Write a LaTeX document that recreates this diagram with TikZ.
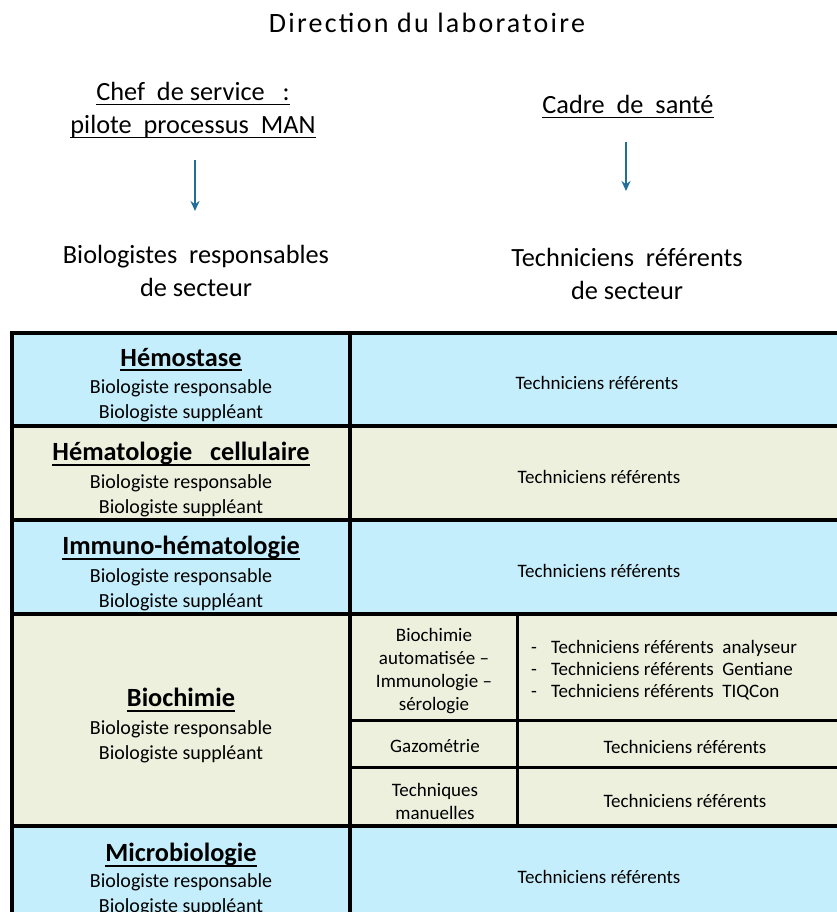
\documentclass[tikz,border=0pt]{standalone}
\usepackage{fontspec}
\setmainfont{Carlito}
\usetikzlibrary{arrows.meta}
\definecolor{cblue}{RGB}{197,238,252}
\definecolor{cbeige}{RGB}{237,240,221}
\definecolor{carrow}{RGB}{31,110,155}
\newcommand\hul[1]{\setbox0\hbox{#1}\leavevmode\rlap{\rule[-4.6pt]{\wd0}{1.9pt}}\box0}
\newcommand\bul[1]{\setbox0\hbox{#1}\leavevmode\rlap{\rule[-4.6pt]{\wd0}{1.4pt}}\box0}
\begin{document}
\begin{tikzpicture}[x=1pt,y=-1pt,
  big/.style={font=\fontsize{26.3}{33}\selectfont, align=center, inner sep=0pt},
  head/.style={font=\fontsize{26.3}{28}\selectfont\bfseries, inner sep=0pt},
  small/.style={font=\fontsize{20}{24.5}\selectfont, align=center, inner sep=0pt},
  cell/.style={font=\fontsize{19}{23}\selectfont, align=center, inner sep=0pt},
  arr/.style={draw=carrow, line width=1.7pt, -{Stealth[length=10pt,width=9pt]}},
  grid/.style={line width=3.6pt, line cap=rect},
  subgrid/.style={line width=3pt}]
\useasboundingbox (0,0) rectangle (837,912);

% header
\node (title) at (427,23) {\fontsize{28}{32}\selectfont\addfontfeature{LetterSpace=8}Direction du laboratoire};
\node[big] (chef) at (193,110) {\bul{Chef\ \ de service\ \ \ :}\\\bul{pilote\ \ processus\ \ MAN}};
\node[big] (cadre) at (628,107) {\bul{Cadre\ \ de\ \ santé}};
\node[big] (bio) at (196,271) {Biologistes\ \ responsables\\de secteur};
\node[big] (tech) at (627,274) {Techniciens\ \ référents\\de secteur};
\coordinate (a1s) at (195,160);
\coordinate (a1e) at (195,211);
\coordinate (a2s) at (626,142);
\coordinate (a2e) at (626,191);
\draw[arr] (a1s) -- (a1e);
\draw[arr] (a2s) -- (a2e);

% fills
\fill[cblue] (12,333) rectangle (837,426);
\fill[cbeige] (12,426) rectangle (837,520);
\fill[cblue] (12,520) rectangle (837,614);
\fill[cbeige] (12,614) rectangle (837,826);
\fill[cblue] (12,826) rectangle (837,912);

% grid
\draw[grid] (837,333) -- (12,333) -- (12,915);
\foreach \y in {426,520,614,826} \draw[grid] (12,\y) -- (837,\y);
\draw[grid] (350,333) -- (350,915);
\draw[subgrid] (517,614) -- (517,826);
\draw[subgrid] (350,720) -- (837,720);
\draw[subgrid] (350,767) -- (837,767);

% rows
\node[head] (h1) at (181,360) {\hul{Hémostase}};
\node[small] (h1b) at (181,401) {Biologiste responsable\\Biologiste suppléant};
\node[cell] (t1) at (597,383) {Techniciens référents};

\node[head] (h2) at (181,454) {\hul{Hématologie\ \ \ cellulaire}};
\node[small] (h2b) at (181,496) {Biologiste responsable\\Biologiste suppléant};
\node[cell] (t2) at (599,477) {Techniciens référents};

\node[head] (h3) at (181,548) {\hul{Immuno-hématologie}};
\node[small] (h3b) at (181,590) {Biologiste responsable\\Biologiste suppléant};
\node[cell] (t3) at (599,571) {Techniciens référents};

\node[head] (h4) at (181,700) {\hul{Biochimie}};
\node[small] (h4b) at (181,742) {Biologiste responsable\\Biologiste suppléant};
\node[cell] (s1) at (434,671) {Biochimie\\automatisée –\\Immunologie –\\sérologie};
\node[cell, align=left, anchor=west, font=\fontsize{19}{22}\selectfont] (s1t) at (531,670) {-\hspace{14pt}Techniciens référents\ \ analyseur\\-\hspace{14pt}Techniciens référents\ \ Gentiane\\-\hspace{14pt}Techniciens référents\ \ TIQCon};
\node[cell] (s2) at (435,746) {Gazométrie};
\node[cell] (s2t) at (685,747) {Techniciens référents};
\node[cell] (s3) at (435,801) {Techniques\\manuelles};
\node[cell] (s3t) at (685,801) {Techniciens référents};

\node[head] (h5) at (181,855) {\hul{Microbiologie}};
\node[small] (h5b) at (181,895) {Biologiste responsable\\Biologiste suppléant};
\node[cell] (t5) at (599,877) {Techniciens référents};
\end{tikzpicture}
\end{document}
